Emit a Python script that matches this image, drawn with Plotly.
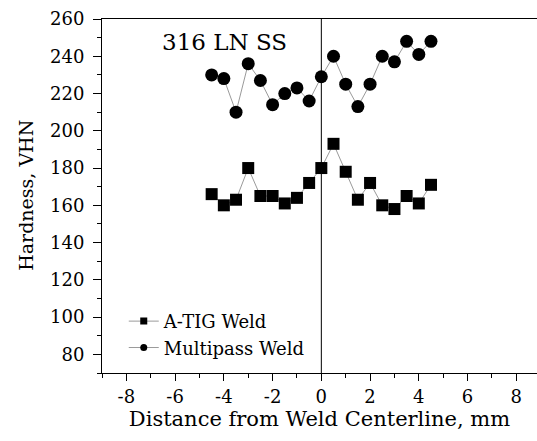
import plotly.graph_objects as go

distance_mm = [-4.5, -4.0, -3.5, -3.0, -2.5, -2.0, -1.5, -1.0, -0.5, 0.0,
               0.5, 1.0, 1.5, 2.0, 2.5, 3.0, 3.5, 4.0, 4.5]
atig_vhn = [166, 160, 163, 180, 165, 165, 161, 164, 172, 180,
            193, 178, 163, 172, 160, 158, 165, 161, 171]
multipass_vhn = [230, 228, 210, 236, 227, 214, 220, 223, 216, 229,
                 240, 225, 213, 225, 240, 237, 248, 241, 248]
series_names = ["A-TIG Weld", "Multipass Weld"]
x_ticks = [-8, -6, -4, -2, 0, 2, 4, 6, 8]
y_ticks = [80, 100, 120, 140, 160, 180, 200, 220, 240, 260]

FONT = "DejaVu Serif"
LINE_GRAY = "#9a9a9a"

fig = go.Figure()

fig.add_trace(go.Scatter(x=distance_mm, y=atig_vhn, mode="lines+markers",
                         line=dict(color=LINE_GRAY, width=1),
                         marker=dict(symbol="square", size=12, color="black"),
                         showlegend=False))
fig.add_trace(go.Scatter(x=distance_mm, y=multipass_vhn, mode="lines+markers",
                         line=dict(color=LINE_GRAY, width=1),
                         marker=dict(symbol="circle", size=13, color="black"),
                         showlegend=False))
fig.add_trace(go.Scatter(x=[None], y=[None], mode="lines+markers", name=series_names[0],
                         line=dict(color=LINE_GRAY, width=1),
                         marker=dict(symbol="square", size=7, color="black")))
fig.add_trace(go.Scatter(x=[None], y=[None], mode="lines+markers", name=series_names[1],
                         line=dict(color=LINE_GRAY, width=1),
                         marker=dict(symbol="circle", size=7, color="black")))

fig.add_shape(type="line", x0=0, x1=0, y0=70, y1=260, xref="x", yref="y",
              line=dict(color="black", width=1))

fig.add_annotation(x=-3.97, y=247.7, xref="x", yref="y", text="316 LN SS",
                   showarrow=False, xanchor="center", yanchor="middle",
                   font=dict(family=FONT, size=23, color="black"))

# y-axis title placed as annotation to match its vertical position
fig.add_annotation(x=-0.175, y=0.503, xref="paper", yref="paper", text="Hardness, VHN",
                   textangle=-90, showarrow=False, xanchor="center", yanchor="middle",
                   font=dict(family=FONT, size=19, color="black"))

fig.update_layout(
    width=537, height=441,
    margin=dict(l=102, r=0, t=19, b=68),
    paper_bgcolor="white", plot_bgcolor="white",
    font=dict(family=FONT, color="black"),
    showlegend=True,
    legend=dict(x=0.05, y=0.02, xanchor="left", yanchor="bottom",
                bgcolor="rgba(0,0,0,0)", font=dict(family=FONT, size=18),
                tracegroupgap=0, itemwidth=30),
    xaxis=dict(range=[-9, 8.85], tickvals=x_ticks, ticktext=[str(v) for v in x_ticks],
               showgrid=False, zeroline=False, showline=True, linecolor="black",
               linewidth=1, mirror=True, ticks="outside", ticklen=7, tickcolor="black",
               tickfont=dict(family=FONT, size=18),
               minor=dict(dtick=1, tick0=0, ticks="outside", ticklen=4, tickcolor="black"),
               title=dict(text="Distance from Weld Centerline, mm",
                          font=dict(family=FONT, size=21), standoff=3)),
    yaxis=dict(range=[70, 260], tickvals=y_ticks, ticktext=[str(v) for v in y_ticks],
               showgrid=False, zeroline=False, showline=True, linecolor="black",
               linewidth=1, mirror=False, ticks="outside", ticklen=8, tickcolor="black",
               tickfont=dict(family=FONT, size=18), ticklabelstandoff=5,
               minor=dict(dtick=10, tick0=0, ticks="outside", ticklen=4, tickcolor="black")),
)

fig.write_html("out.html")
